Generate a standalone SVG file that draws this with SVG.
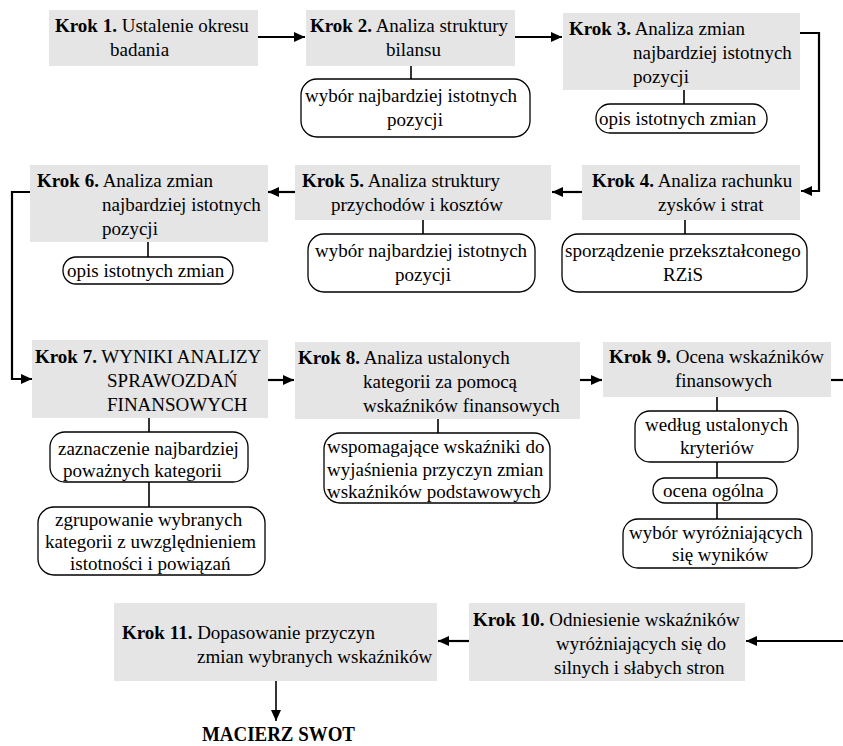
<svg xmlns="http://www.w3.org/2000/svg" width="843" height="746" viewBox="0 0 843 746" font-family="'Liberation Serif','Times New Roman',serif">
<defs>
<marker id="ah" markerUnits="userSpaceOnUse" markerWidth="11" markerHeight="10" refX="11" refY="5" orient="auto">
<path d="M0,0 L11,5 L0,10 z" fill="#000"/>
</marker>
<style>
.step{fill:#e5e5e5;stroke:none}
.sub{fill:#fff;stroke:#000;stroke-width:1.3}
text{font-family:"Liberation Serif","Times New Roman",serif;font-size:19px;fill:#000}
.b{font-weight:bold}
.flow{fill:none;stroke:#000;stroke-width:2.2}
.tick{fill:none;stroke:#000;stroke-width:1.6}
</style>
</defs>
<rect width="843" height="746" fill="#fff"/>

<g id="connectors">
<line class="flow" x1="258" y1="37" x2="305" y2="37" marker-end="url(#ah)"/>
<line class="flow" x1="515" y1="37" x2="562" y2="37" marker-end="url(#ah)"/>
<polyline class="flow" points="800,33 819,33 819,191 801,191" marker-end="url(#ah)"/>
<line class="flow" x1="582" y1="192" x2="552" y2="192" marker-end="url(#ah)"/>
<line class="flow" x1="295" y1="192" x2="268" y2="192" marker-end="url(#ah)"/>
<polyline class="flow" points="30,192 12,192 12,379 32,379" marker-end="url(#ah)"/>
<line class="flow" x1="268" y1="380" x2="294" y2="380" marker-end="url(#ah)"/>
<line class="flow" x1="580" y1="380" x2="602" y2="380" marker-end="url(#ah)"/>
<line class="flow" x1="831" y1="380" x2="843" y2="380"/>
<line class="flow" x1="843" y1="641" x2="746" y2="641" marker-end="url(#ah)"/>
<line class="flow" x1="469" y1="641" x2="438" y2="641" marker-end="url(#ah)"/>
<line class="tick" x1="276" y1="681" x2="276" y2="721" marker-end="url(#ah)"/>
<line class="tick" x1="411" y1="66" x2="411" y2="79"/>
<line class="tick" x1="684" y1="90" x2="684" y2="104"/>
<line class="tick" x1="685" y1="220" x2="685" y2="234"/>
<line class="tick" x1="423" y1="220" x2="423" y2="234"/>
<line class="tick" x1="148" y1="242" x2="148" y2="257"/>
<line class="tick" x1="149" y1="418" x2="149" y2="432"/>
<line class="tick" x1="149" y1="482" x2="149" y2="507"/>
<line class="tick" x1="438" y1="419" x2="438" y2="433"/>
<line class="tick" x1="717" y1="397" x2="717" y2="411"/>
<line class="tick" x1="717" y1="462" x2="717" y2="478"/>
<line class="tick" x1="717" y1="503" x2="717" y2="519"/>
</g>

<g id="krok1">
<rect class="step" x="49" y="10" width="209" height="56"/>
<text x="55" y="32"><tspan class="b">Krok 1.</tspan> Ustalenie okresu</text>
<text x="110" y="56">badania</text>
</g>

<g id="krok2">
<rect class="step" x="306" y="10" width="209" height="56"/>
<text x="310" y="32"><tspan class="b">Krok 2.</tspan> Analiza struktury</text>
<text x="386" y="56">bilansu</text>
</g>
<g id="krok2-sub">
<rect class="sub" x="301" y="79" width="229" height="58" rx="16"/>
<text x="305" y="102">wybór najbardziej istotnych</text>
<text x="387" y="126">pozycji</text>
</g>

<g id="krok3">
<rect class="step" x="563" y="13" width="237" height="77"/>
<text x="569" y="35"><tspan class="b">Krok 3.</tspan> Analiza zmian</text>
<text x="633" y="59">najbardziej istotnych</text>
<text x="633" y="83">pozycji</text>
</g>
<g id="krok3-sub">
<rect class="sub" x="596" y="104" width="171" height="29" rx="14"/>
<text x="599" y="125">opis istotnych zmian</text>
</g>

<g id="krok4">
<rect class="step" x="582" y="165" width="218" height="55"/>
<text x="592" y="187"><tspan class="b">Krok 4.</tspan> Analiza rachunku</text>
<text x="658" y="211">zysków i strat</text>
</g>
<g id="krok4-sub">
<rect class="sub" x="562" y="234" width="245" height="58" rx="16"/>
<text x="565" y="257">sporządzenie przekształconego</text>
<text x="663" y="281">RZiS</text>
</g>

<g id="krok5">
<rect class="step" x="295" y="165" width="256" height="55"/>
<text x="302" y="187"><tspan class="b">Krok 5.</tspan> Analiza struktury</text>
<text x="331" y="211">przychodów i kosztów</text>
</g>
<g id="krok5-sub">
<rect class="sub" x="308" y="234" width="227" height="58" rx="16"/>
<text x="315" y="257">wybór najbardziej istotnych</text>
<text x="395" y="281">pozycji</text>
</g>

<g id="krok6">
<rect class="step" x="30" y="165" width="238" height="77"/>
<text x="37" y="187"><tspan class="b">Krok 6.</tspan> Analiza zmian</text>
<text x="102" y="211">najbardziej istotnych</text>
<text x="102" y="235">pozycji</text>
</g>
<g id="krok6-sub">
<rect class="sub" x="63" y="257" width="170" height="27" rx="13"/>
<text x="67" y="277">opis istotnych zmian</text>
</g>

<g id="krok7">
<rect class="step" x="32" y="340" width="236" height="78"/>
<text x="35" y="363"><tspan class="b">Krok 7.</tspan> WYNIKI ANALIZY</text>
<text x="107" y="387">SPRAWOZDAŃ</text>
<text x="107" y="411">FINANSOWYCH</text>
</g>
<g id="krok7-sub1">
<rect class="sub" x="50" y="432" width="198" height="50" rx="15"/>
<text x="58" y="455">zaznaczenie najbardziej</text>
<text x="63" y="477">poważnych kategorii</text>
</g>
<g id="krok7-sub2">
<rect class="sub" x="38" y="507" width="227" height="68" rx="16"/>
<text x="55" y="526">zgrupowanie wybranych</text>
<text x="45" y="548">kategorii z uwzględnieniem</text>
<text x="70" y="570">istotności i powiązań</text>
</g>

<g id="krok8">
<rect class="step" x="295" y="342" width="285" height="77"/>
<text x="298" y="364"><tspan class="b">Krok 8.</tspan> Analiza ustalonych</text>
<text x="363" y="388">kategorii za pomocą</text>
<text x="363" y="412">wskaźników finansowych</text>
</g>
<g id="krok8-sub">
<rect class="sub" x="324" y="433" width="226" height="70" rx="16"/>
<text x="327" y="453">wspomagające wskaźniki do</text>
<text x="327" y="476">wyjaśnienia przyczyn zmian</text>
<text x="327" y="498">wskaźników podstawowych</text>
</g>

<g id="krok9">
<rect class="step" x="603" y="342" width="228" height="55"/>
<text x="609" y="363"><tspan class="b">Krok 9.</tspan> Ocena wskaźników</text>
<text x="675" y="387">finansowych</text>
</g>
<g id="krok9-sub1">
<rect class="sub" x="635" y="411" width="163" height="51" rx="15"/>
<text x="645" y="431">według ustalonych</text>
<text x="680" y="454">kryteriów</text>
</g>
<g id="krok9-sub2">
<rect class="sub" x="653" y="478" width="124" height="25" rx="12"/>
<text x="663" y="497">ocena ogólna</text>
</g>
<g id="krok9-sub3">
<rect class="sub" x="623" y="519" width="189" height="49" rx="15"/>
<text x="629" y="539">wybór wyróżniających</text>
<text x="672" y="561">się wyników</text>
</g>

<g id="krok10">
<rect class="step" x="469" y="603" width="276" height="78"/>
<text x="473" y="626"><tspan class="b">Krok 10.</tspan> Odniesienie wskaźników</text>
<text x="556" y="650">wyróżniających się do</text>
<text x="554" y="674">silnych i słabych stron</text>
</g>

<g id="krok11">
<rect class="step" x="114" y="603" width="323" height="78"/>
<text x="122" y="639"><tspan class="b">Krok 11.</tspan> Dopasowanie przyczyn</text>
<text x="197" y="663">zmian wybranych wskaźników</text>
</g>

<g id="swot">
<text class="b" x="202" y="741" style="font-size:21px" textLength="153" lengthAdjust="spacingAndGlyphs">MACIERZ SWOT</text>
</g>
</svg>
